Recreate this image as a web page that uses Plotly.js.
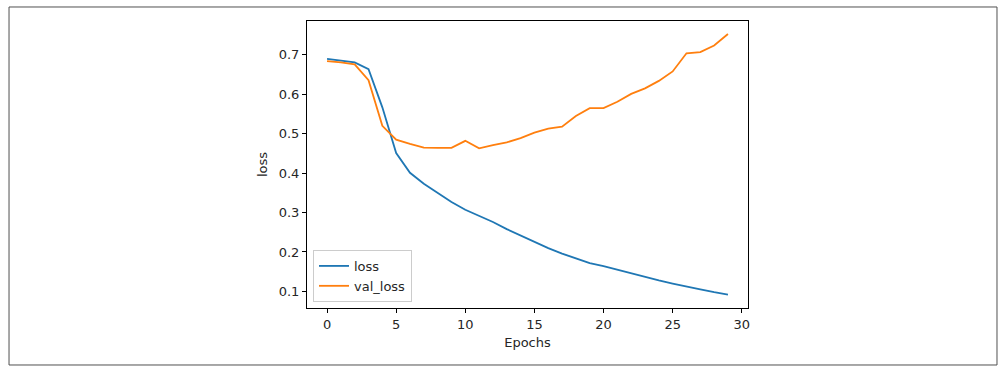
<!DOCTYPE html>
<html>
<head>
<meta charset="utf-8">
<script src="https://cdn.plot.ly/plotly-3.0.1.min.js"></script>
<style>
  html, body { margin: 0; padding: 0; background: #fff; }
  #chart { width: 1004px; height: 372px; }
</style>
</head>
<body>
<div id="chart"></div>
<script>
const epochs = [0,1,2,3,4,5,6,7,8,9,10,11,12,13,14,15,16,17,18,19,20,21,22,23,24,25,26,27,28,29];
const loss = [0.690,0.686,0.681,0.664,0.567,0.451,0.401,0.373,0.350,0.327,0.307,0.292,0.276,0.258,0.242,0.224,0.210,0.196,0.183,0.172,0.164,0.155,0.145,0.137,0.128,0.120,0.112,0.105,0.098,0.092];
const valLoss = [0.684,0.681,0.676,0.636,0.520,0.485,0.474,0.465,0.464,0.464,0.482,0.463,0.471,0.478,0.489,0.503,0.513,0.518,0.545,0.565,0.565,0.581,0.601,0.615,0.634,0.658,0.704,0.707,0.724,0.753];
const xTicks = [0,5,10,15,20,25,30];
const yTicks = [0.1,0.2,0.3,0.4,0.5,0.6,0.7];

const font = {family: 'DejaVu Sans, sans-serif', size: 13, color: '#262626'};

const traces = [
  {x: epochs, y: loss, name: 'loss', type: 'scatter', mode: 'lines',
   line: {color: '#1f77b4', width: 1.8}},
  {x: epochs, y: valLoss, name: 'val_loss', type: 'scatter', mode: 'lines',
   line: {color: '#ff7f0e', width: 1.8}}
];

const layout = {
  width: 1004, height: 372,
  margin: {l: 307, r: 256, t: 21, b: 64, pad: 0},
  paper_bgcolor: '#fff', plot_bgcolor: '#fff',
  font: font,
  showlegend: true,
  legend: {
    x: 0.0136, y: 0.021, xanchor: 'left', yanchor: 'bottom',
    bordercolor: '#cccccc', borderwidth: 1, bgcolor: 'rgba(255,255,255,0.8)',
    font: font, itemwidth: 30, tracegroupgap: 0
  },
  xaxis: {
    range: [-1.45, 30.45], tickvals: xTicks, ticktext: xTicks.map(String),
    showgrid: false, zeroline: false,
    showline: true, linecolor: '#000', linewidth: 1, mirror: true,
    ticks: 'outside', ticklen: 4, tickcolor: '#000', tickwidth: 1,
    tickfont: font,
    title: {text: 'Epochs', font: font, standoff: 7}
  },
  yaxis: {
    range: [0.0579, 0.786], tickvals: yTicks, ticktext: yTicks.map(v => v.toFixed(1)),
    showgrid: false, zeroline: false,
    showline: true, linecolor: '#000', linewidth: 1, mirror: true,
    ticks: 'outside', ticklen: 4, tickcolor: '#000', tickwidth: 1,
    tickfont: font,
    title: {text: 'loss', font: font, standoff: 8}
  },
  shapes: [{
    type: 'rect', xref: 'paper', yref: 'paper',
    x0: -0.6757, x1: 1.5646, y0: -0.1986, y1: 1.0488,
    line: {color: '#505050', width: 1}, fillcolor: 'rgba(0,0,0,0)', layer: 'below'
  }]
};

Plotly.newPlot('chart', traces, layout, {displayModeBar: false, staticPlot: true});
</script>
</body>
</html>
